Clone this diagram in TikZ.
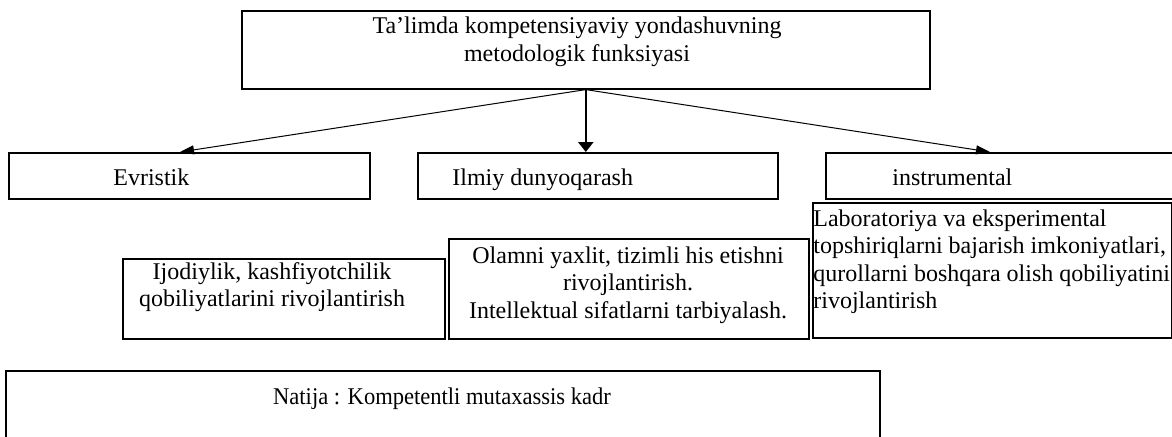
\documentclass[tikz,border=0pt]{standalone}
\usepackage{fontspec}
\setmainfont{Liberation Serif}
\usetikzlibrary{arrows.meta, positioning}

\tikzset{
  box/.style={draw, line width=0.8pt, rectangle, anchor=north west, inner sep=0pt},
  txt/.style={inner sep=0pt, font=\fontsize{12}{13.8}\selectfont},
  thinarr/.style={-{Triangle[length=7pt, width=4.5pt]}, line width=0.5pt},
  thickarr/.style={-{Triangle[length=5pt, width=7.5pt]}, line width=1.3pt},
}

\begin{document}
\begin{tikzpicture}[x=0.5pt, y=-0.5pt]
    \useasboundingbox (0,0) rectangle (1172,436);
    % boxes
    \node[box, minimum width=344pt, minimum height=39pt] (func) at (241,10) {};
    \node[box, minimum width=180.5pt, minimum height=23pt] (evr) at (8,152) {};
    \node[box, minimum width=180pt, minimum height=23pt] (ilm) at (417,152) {};
    \node[box, minimum width=185pt, minimum height=23pt] (instr) at (825,152) {};
    \node[box, minimum width=161pt, minimum height=40pt] (ijod) at (122,258) {};
    \node[box, minimum width=180pt, minimum height=50pt] (olam) at (448,238) {};
    \node[box, minimum width=179.5pt, minimum height=67.5pt] (lab) at (812,202) {};
    \node[box, minimum width=437pt, minimum height=60pt] (natija) at (5,370) {};
    % texts
    \node[txt, align=center, anchor=north] (functxt) at (577,16.5)
        {Ta’limda kompetensiyaviy yondashuvning\\metodologik funksiyasi};
    \node[txt, anchor=base west] (evrtxt) at (113,185) {Evristik};
    \node[txt, anchor=base west] (ilmtxt) at (452,185) {Ilmiy dunyoqarash};
    \node[txt, anchor=base west] (instrtxt) at (892,185) {instrumental};
    \node[txt, align=center, anchor=north] (ijodtxt) at (272,262)
        {Ijodiylik, kashfiyotchilik\\qobiliyatlarini rivojlantirish};
    \node[txt, align=center, anchor=north] (olamtxt) at (628,246)
        {Olamni yaxlit, tizimli his etishni\\rivojlantirish.\\Intellektual sifatlarni tarbiyalash.};
    \node[txt, align=left, anchor=north west] (labtxt) at (813,209)
        {Laboratoriya va eksperimental\\topshiriqlarni bajarish imkoniyatlari,\\qurollarni boshqara olish qobiliyatini\\rivojlantirish};
    \node[txt, anchor=base] (natijatxt) at (442,404)
        {\scalebox{0.94}[1]{Natija : Kompetentli mutaxassis kadr}};
    % arrows
    \draw[thinarr] (func.south) -- ([xshift=86pt]evr.north west);
    \draw[thickarr] (func.south) -- (func.south |- ilm.north);
    \draw[thinarr] (func.south) -- ([xshift=82.5pt]instr.north west);
\end{tikzpicture}
\end{document}
